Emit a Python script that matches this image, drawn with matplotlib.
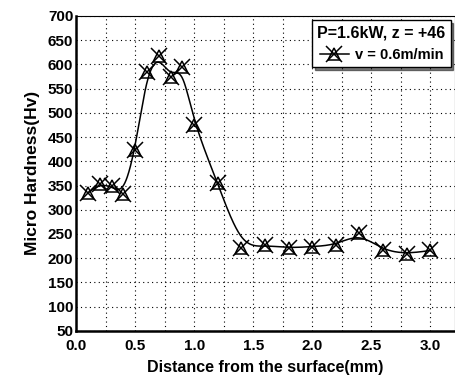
import numpy as np
import matplotlib.pyplot as plt
from matplotlib.ticker import MultipleLocator

# distance from surface (mm) and micro hardness (Hv)
distance = [0.1, 0.2, 0.3, 0.4, 0.5, 0.6, 0.7, 0.8, 0.9, 1.0, 1.2,
            1.4, 1.6, 1.8, 2.0, 2.2, 2.4, 2.6, 2.8, 3.0]
hardness = [335, 353, 348, 332, 423, 584, 617, 574, 595, 475, 355,
            221, 227, 221, 224, 227, 252, 216, 209, 216]

legend_title = "P=1.6kW, z = +46"
series_label = "v = 0.6m/min"


def bspline(xs, ys, n=30):
    """uniform cubic B-spline through the data points as control points"""
    px = np.r_[xs[0], xs[0], xs, xs[-1], xs[-1]]
    py = np.r_[ys[0], ys[0], ys, ys[-1], ys[-1]]
    t = np.linspace(0, 1, n, endpoint=False)
    b0 = (1 - t) ** 3 / 6
    b1 = (3 * t ** 3 - 6 * t ** 2 + 4) / 6
    b2 = (-3 * t ** 3 + 3 * t ** 2 + 3 * t + 1) / 6
    b3 = t ** 3 / 6
    ox, oy = [], []
    for i in range(len(px) - 3):
        ox.append(b0 * px[i] + b1 * px[i + 1] + b2 * px[i + 2] + b3 * px[i + 3])
        oy.append(b0 * py[i] + b1 * py[i + 1] + b2 * py[i + 2] + b3 * py[i + 3])
    ox.append([xs[-1]])
    oy.append([ys[-1]])
    return np.concatenate(ox), np.concatenate(oy)


plt.rcParams['font.family'] = ['Liberation Sans', 'DejaVu Sans']
plt.rcParams['font.weight'] = 'bold'

fig = plt.figure(figsize=(4.56, 3.79), dpi=100)
ax = fig.add_axes([0.167, 0.127, 0.831, 0.831])

sx, sy = bspline(np.array(distance, float), np.array(hardness, float))
line, = ax.plot(sx, sy, color='black', lw=1.1)
tri, = ax.plot(distance, hardness, ls='none', marker='^', ms=9, mfc='none',
               mec='black', mew=1.1)
crs, = ax.plot(distance, hardness, ls='none', marker='x', ms=12, mec='black',
               mew=1.1)

ax.set_xlim(0, 3.21)
ax.set_ylim(50, 700)
ax.xaxis.set_major_locator(MultipleLocator(0.5))
ax.xaxis.set_minor_locator(MultipleLocator(0.25))
ax.yaxis.set_major_locator(MultipleLocator(50))
ax.xaxis.set_major_formatter(plt.FormatStrFormatter('%.1f'))
ax.grid(True, which='both', color='black', ls=(0, (1, 3)), lw=0.8)
ax.tick_params(which='both', length=0, labelsize=11)
ax.tick_params(axis='x', pad=6)
ax.tick_params(axis='y', pad=2)

for side in ['left', 'bottom']:
    ax.spines[side].set_linewidth(1.8)

ax.set_xlabel('Distance from the surface(mm)', fontsize=11.5,
              fontweight='bold', labelpad=5)
ax.set_ylabel('Micro Hardness(Hv)', fontsize=12.5, fontweight='bold',
              labelpad=6)

leg = ax.legend([(line, tri, crs)], [series_label], title=legend_title,
                loc='upper right', fancybox=False, shadow={'color': 'black'},
                framealpha=1, edgecolor='black', fontsize=10.5,
                title_fontsize=11.5, handlelength=2.0, handletextpad=0.4,
                borderaxespad=0.3, borderpad=0.35)
leg.get_title().set_fontweight('bold')
leg.get_frame().set_linewidth(1.0)

fig.savefig('out.png', dpi=100)
